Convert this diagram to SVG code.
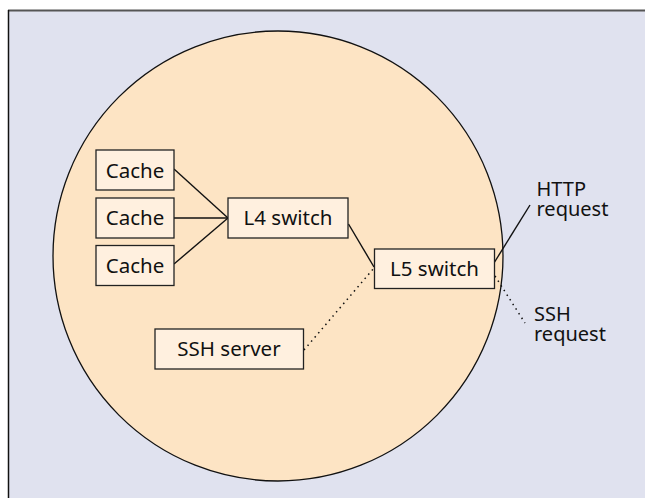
<svg xmlns="http://www.w3.org/2000/svg" width="645" height="498" viewBox="0 0 645 498">
<style>
.box{fill:#fff0df;stroke:#222;stroke-width:1.3}
.lbl{font-family:"Noto Sans","Open Sans",sans-serif;font-size:20.5px;fill:#111;text-anchor:middle}
.ext{font-family:"Noto Sans","Open Sans",sans-serif;font-size:20px;fill:#111}
.ln{stroke:#111;stroke-width:1.4;fill:none}
.dot{stroke:#111;stroke-width:1.5;fill:none;stroke-dasharray:1.5 4}
</style>
<rect x="0" y="0" width="645" height="498" fill="#ffffff"/>
<rect x="8" y="10.5" width="640" height="492" fill="#e0e2ef"/>
<line x1="8" y1="10.5" x2="645" y2="10.5" stroke="#555" stroke-width="1.8"/>
<line x1="8.5" y1="10" x2="8.5" y2="498" stroke="#111" stroke-width="1.5"/>
<circle id="domain" cx="278" cy="256" r="225" fill="#fde4c4" stroke="#111" stroke-width="1.3"/>
<g id="connectors">
<line class="ln" x1="174" y1="169" x2="228" y2="218"/>
<line class="ln" x1="174" y1="218" x2="228" y2="218"/>
<line class="ln" x1="174" y1="264" x2="228" y2="218"/>
<line class="ln" x1="348.5" y1="224" x2="374" y2="267"/>
<line class="ln" x1="494" y1="263" x2="530" y2="205"/>
<line class="dot" x1="304" y1="350" x2="374" y2="268"/>
<line class="dot" x1="495" y1="276" x2="525" y2="323"/>
</g>
<g id="cache1"><rect class="box" x="96" y="150" width="78" height="40"/><text class="lbl" x="135" y="177.5">Cache</text></g>
<g id="cache2"><rect class="box" x="96" y="198" width="78" height="40"/><text class="lbl" x="135" y="225">Cache</text></g>
<g id="cache3"><rect class="box" x="96" y="245.5" width="78" height="40"/><text class="lbl" x="135" y="272.5">Cache</text></g>
<g id="l4"><rect class="box" x="228" y="198" width="120" height="40"/><text class="lbl" x="288" y="225">L4 switch</text></g>
<g id="l5"><rect class="box" x="374.5" y="249" width="120" height="39.5"/><text class="lbl" x="434.5" y="276">L5 switch</text></g>
<g id="ssh"><rect class="box" x="155" y="329" width="148.5" height="40"/><text class="lbl" x="229" y="356">SSH server</text></g>
<g id="http-label"><text class="ext" x="536.5" y="196"><tspan x="536.5" y="196">HTTP</tspan><tspan x="536.5" y="216">request</tspan></text></g>
<g id="ssh-label"><text class="ext" x="534" y="321"><tspan x="534" y="321">SSH</tspan><tspan x="534" y="341">request</tspan></text></g>
</svg>
